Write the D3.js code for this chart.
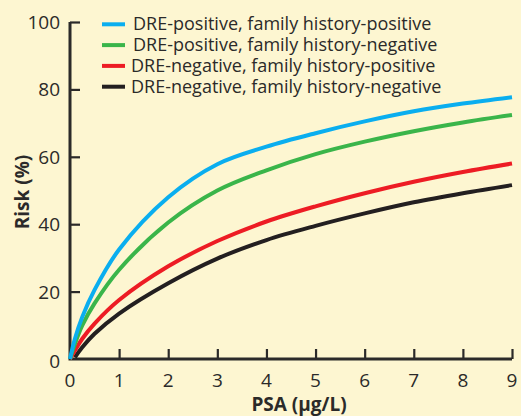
<!DOCTYPE html>
<html>
<head>
<meta charset="utf-8">
<script src="https://cdn.jsdelivr.net/npm/d3@7"></script>
<style>
  html, body { margin: 0; padding: 0; background: #fdf6d1; }
  svg { display: block; font-family: "Open Sans", sans-serif; }
</style>
</head>
<body>
<svg id="risk-chart"></svg>
<script>
var psa = [0, 0.1, 0.25, 0.5, 1, 2, 3, 4, 5, 6, 7, 8, 9];

var drePosFhPos = [0, 6, 12.5, 20.5, 32.5, 48, 57.8, 63, 67, 70.5, 73.5, 75.8, 77.7];
var drePosFhNeg = [0, 4.5, 10, 16.5, 26.5, 40.5, 50, 56, 60.8, 64.5, 67.6, 70.2, 72.4];
var dreNegFhPos = [0, 2.5, 6, 10.5, 17.5, 27.5, 35, 40.8, 45.3, 49.2, 52.6, 55.5, 58];
var dreNegFhNeg = [null, 0.5, 3.5, 7.5, 13.5, 22.5, 29.8, 35.3, 39.5, 43.2, 46.5, 49.2, 51.6];

var seriesNames = [
  "DRE-positive, family history-positive",
  "DRE-positive, family history-negative",
  "DRE-negative, family history-positive",
  "DRE-negative, family history-negative"
];
var seriesColors = ["#0aaeef", "#3ab54a", "#ed1c24", "#231f20"];
var xTicks = [0, 1, 2, 3, 4, 5, 6, 7, 8, 9];
var yTicks = [0, 20, 40, 60, 80, 100];

var allSeries = [drePosFhPos, drePosFhNeg, dreNegFhPos, dreNegFhNeg];

var width = 521, height = 416;
var margin = {top: 22, right: 9, bottom: 57, left: 70};

var svg = d3.select("svg#risk-chart")
    .attr("width", width)
    .attr("height", height);

var x = d3.scaleLinear().domain([0, 9]).range([margin.left, width - margin.right]);
var y = d3.scaleLinear().domain([0, 100]).range([height - margin.bottom, margin.top]);

var ink = "#2b2a29";

// axes
var xAxis = svg.append("g")
    .attr("transform", "translate(0," + y(0) + ")")
    .call(d3.axisTop(x).tickValues(xTicks).tickSize(10).tickFormat(""));
var yAxis = svg.append("g")
    .attr("transform", "translate(" + x(0) + ",0)")
    .call(d3.axisRight(y).tickValues(yTicks).tickSize(10).tickFormat(""));

[xAxis, yAxis].forEach(function(g) {
  g.select(".domain").attr("stroke", ink).attr("stroke-width", 3);
  g.selectAll(".tick line").attr("stroke", ink).attr("stroke-width", 2.2);
});
yAxis.selectAll(".tick").filter(function(d) { return d === 0; }).remove();
xAxis.selectAll(".tick").filter(function(d) { return d === 0; }).remove();
xAxis.select(".domain").attr("d", "M" + (x(0) - 1.5) + ",0H" + x(9));
yAxis.select(".domain").attr("d", "M0," + y(0) + "V" + y(100));

// tick labels
svg.append("g").selectAll("text")
    .data(xTicks).enter().append("text")
    .attr("x", function(d) { return x(d); })
    .attr("y", 387)
    .attr("text-anchor", "middle")
    .attr("font-size", 19)
    .attr("fill", ink)
    .text(function(d) { return d; });

svg.append("g").selectAll("text")
    .data(yTicks).enter().append("text")
    .attr("x", x(0) - 10)
    .attr("y", function(d) { return y(d) + (d === 0 ? 9 : 7); })
    .attr("text-anchor", "end")
    .attr("font-size", 19)
    .attr("fill", ink)
    .text(function(d) { return d; });

// axis titles
svg.append("text")
    .attr("x", 299)
    .attr("y", 411)
    .attr("text-anchor", "middle")
    .attr("font-size", 19)
    .attr("font-weight", "bold")
    .attr("fill", ink)
    .text("PSA (\u03bcg/L)");

svg.append("text")
    .attr("transform", "translate(29," + 192 + ") rotate(-90)")
    .attr("text-anchor", "middle")
    .attr("font-size", 19)
    .attr("font-weight", "bold")
    .attr("fill", ink)
    .text("Risk (%)");

// curves
var line = d3.line()
    .defined(function(d) { return d[1] !== null; })
    .x(function(d) { return x(d[0]); })
    .y(function(d) { return y(d[1]); })
    .curve(d3.curveCatmullRom.alpha(0.5));

svg.append("g").selectAll("path")
    .data(allSeries.slice().reverse()).enter().append("path")
    .attr("fill", "none")
    .attr("stroke", function(d, i) { return seriesColors[3 - i]; })
    .attr("stroke-width", 4)
    .attr("d", function(vals) {
      return line(psa.map(function(p, j) { return [p, vals[j]]; }));
    });

// legend
var legend = svg.append("g").selectAll("g")
    .data(seriesNames).enter().append("g")
    .attr("transform", function(d, i) { return "translate(102," + (24.3 + i * 20.8) + ")"; });

legend.append("line")
    .attr("x1", 0).attr("x2", 23)
    .attr("stroke", function(d, i) { return seriesColors[i]; })
    .attr("stroke-width", 4);

legend.append("text")
    .attr("x", function(d, i) { return i < 2 ? 31 : 29; })
    .attr("y", 6)
    .attr("font-size", 18)
    .attr("fill", ink)
    .text(function(d) { return d; });
</script>
</body>
</html>
